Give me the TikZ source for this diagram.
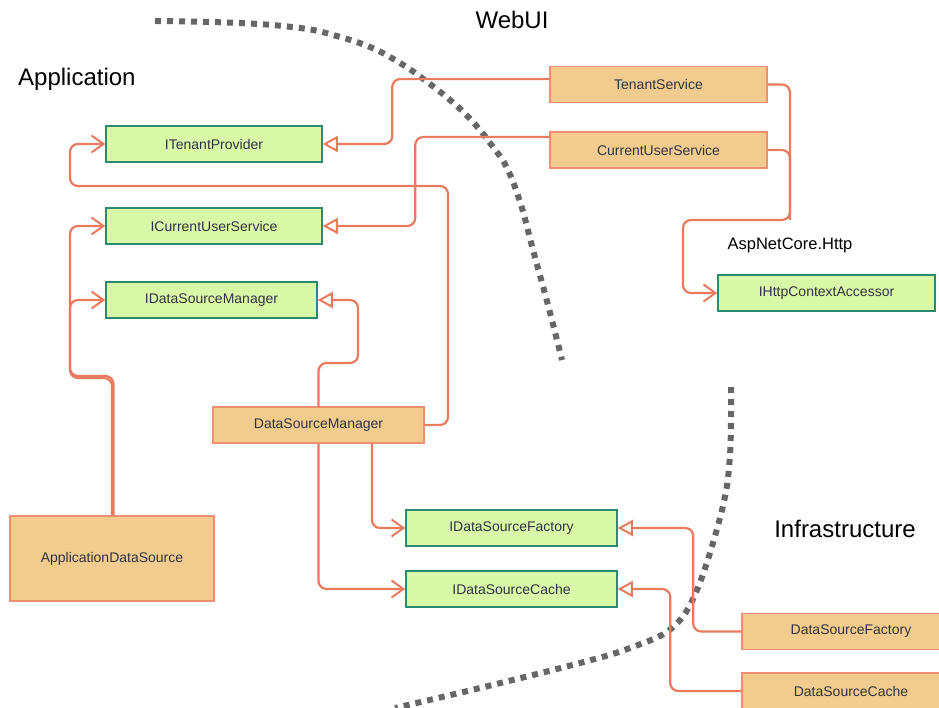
\documentclass[tikz,border=0pt]{standalone}
\usepackage{fontspec}
\setmainfont{Liberation Sans}
\usetikzlibrary{arrows.meta}
\definecolor{connc}{RGB}{232,122,94}
\definecolor{ifill}{RGB}{216,249,168}
\definecolor{idraw}{RGB}{44,138,112}
\definecolor{ofill}{RGB}{242,204,143}
\definecolor{odraw}{RGB}{238,144,112}
\definecolor{dotc}{RGB}{102,102,102}
\definecolor{ntext}{RGB}{51,51,60}
\tikzset{
  iface/.style={draw=idraw, fill=ifill, line width=1.5pt, inner sep=0pt, minimum height=36pt, text=ntext, font=\fontsize{14pt}{16pt}\selectfont},
  impl/.style={draw=odraw, fill=ofill, line width=1.5pt, inner sep=0pt, minimum height=36pt, text=ntext, font=\fontsize{14pt}{16pt}\selectfont},
  conn/.style={draw=connc, line width=2.2pt, rounded corners=8pt},
  realize/.style={conn, -{Triangle[open, length=15pt, width=16pt, fill=white, line width=2pt]}},
  uses/.style={conn, -{Straight Barb[length=12pt, width=17pt, line width=2pt]}},
  sep/.style={draw=dotc, line width=6pt, dash pattern=on 6pt off 6pt},
  zone/.style={font=\fontsize{24pt}{28pt}\selectfont, inner sep=0pt},
}
\begin{document}
\begin{tikzpicture}[x=1pt, y=-1pt]
\useasboundingbox (0,0) rectangle (939,708);
\fill[white] (0,0) rectangle (939,708);

% separators
\draw[sep] plot[smooth, tension=0.7] coordinates {(155,21) (240,23) (300,28) (333,35) (370,47) (400,63) (422,78) (450,100) (473,122) (493,147) (507,168) (521,205) (533,250) (548,305) (562,360)};
\draw[sep] plot[smooth, tension=0.6] coordinates {(731,387) (730,455) (722,510) (697,590) (672,628) (630,648) (580,663) (480,688) (395,708)};

% zone labels
\node[zone] (webui) at (512,20) {WebUI};
\node[zone, anchor=west] (app) at (18,79) {Application};
\node[zone] (infra) at (845,529) {Infrastructure};
\node[inner sep=0pt, font=\fontsize{16.5pt}{19pt}\selectfont] (asp) at (790,245) {AspNetCore.Http};

% nodes
\node[iface, minimum width=216pt] (itp) at (214,144) {ITenantProvider};
\node[iface, minimum width=216pt] (icus) at (214,226) {ICurrentUserService};
\node[iface, minimum width=211pt] (idsm) at (211.5,300) {IDataSourceManager};
\node[impl, minimum width=217pt] (ts) at (658.5,84.5) {TenantService};
\node[impl, minimum width=217pt] (cus) at (658.5,150) {CurrentUserService};
\node[iface, minimum width=217pt] (ihttp) at (826.5,293) {IHttpContextAccessor};
\node[impl, minimum width=211pt] (dsm) at (318.5,425) {DataSourceManager};
\node[iface, minimum width=211pt] (idsf) at (511.5,528) {IDataSourceFactory};
\node[iface, minimum width=211pt] (idsc) at (511.5,589) {IDataSourceCache};
\node[impl, minimum width=204pt, minimum height=85pt] (ads) at (112,558.5) {ApplicationDataSource};
\node[impl, minimum width=218pt] (dsf) at (851,631.5) {DataSourceFactory};
\node[impl, minimum width=218pt] (dsc) at (851,691) {DataSourceCache};

\coordinate (jhttp) at (790,220);
\coordinate (jads) at (70,378);

% connectors
\draw[realize] ([yshift=5.5pt]ts.west) -- ++(-157,0) |- (itp.east) [sharp corners];
\draw[realize] ([yshift=13pt]cus.west) -- ++(-134,0) |- (icus.east) [sharp corners];
\draw[conn] (cus.east) -| (jhttp);
\draw[uses] (ts.east) -| (jhttp) -- ++(-107,0) |- (ihttp.west) [sharp corners];
\draw[realize] (dsm.north) |- (358,363) |- (idsm.east) [sharp corners];
\draw[uses] (dsm.east) -| (448,186) -- (70,186) |- (itp.west) [sharp corners];
\draw[uses] ([xshift=53.5pt]dsm.south) |- (idsf.west) [sharp corners];
\draw[uses] (dsm.south) |- (idsc.west) [sharp corners];
\draw[uses] (ads.north) |- (jads) |- (icus.west) [sharp corners];
\draw[uses] ([xshift=1.5pt]ads.north) |- ([yshift=2pt]jads) |- (idsm.west) [sharp corners];
\draw[realize] (dsf.west) -- ++(-48,0) |- (idsf.east) [sharp corners];
\draw[realize] (dsc.west) -- ++(-71,0) |- (idsc.east) [sharp corners];
\end{tikzpicture}
\end{document}
